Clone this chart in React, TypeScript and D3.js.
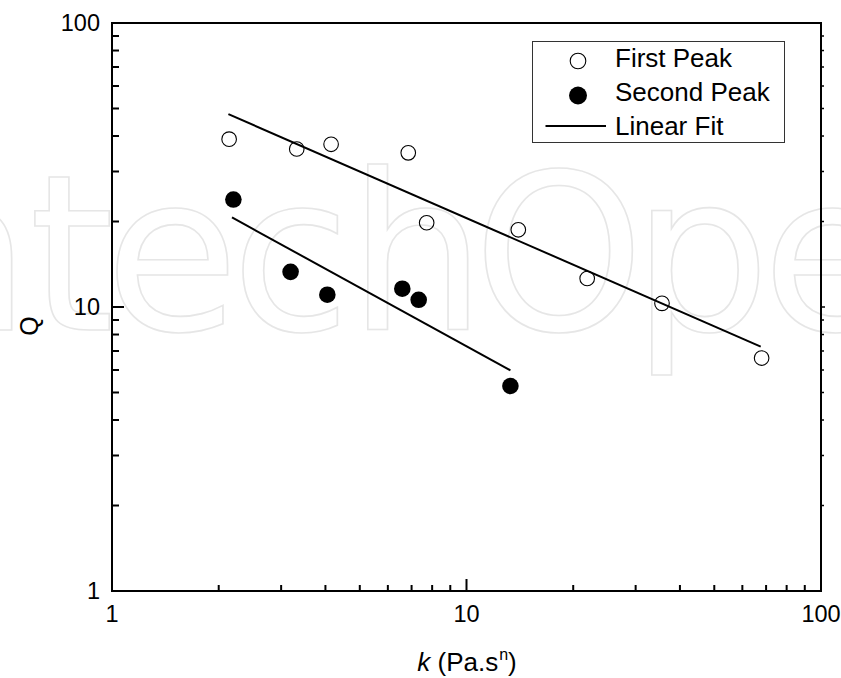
import React from "react";
import * as d3 from "d3";

// k (Pa.s^n) and Q for the two peaks
const firstPeakK = [2.14, 3.32, 4.15, 6.85, 7.72, 14.0, 21.9, 35.6, 68.0];
const firstPeakQ = [39.0, 36.0, 37.4, 34.9, 19.8, 18.7, 12.6, 10.3, 6.61];
const secondPeakK = [2.2, 3.19, 4.05, 6.59, 7.33, 13.3];
const secondPeakQ = [23.9, 13.3, 11.05, 11.6, 10.6, 5.27];

// power-law fits: log10(Q) = a + b * log10(k), drawn over [kMin, kMax]
const fitNames = ["first", "second"];
const fitA = [1.858, 1.547];
const fitB = [-0.545, -0.685];
const fitKMin = [2.13, 2.18];
const fitKMax = [67.6, 13.3];

const xTickLabels = ["1", "10", "100"];
const yTickLabels = ["1", "10", "100"];
const legendLabels = ["First Peak", "Second Peak", "Linear Fit"];

const W = 841;
const H = 678;
const FONT = "'Liberation Sans', Arial, Helvetica, sans-serif";

// glyph origins for the background mark
const markText = "IntechOpen";
const markX = [-175, -108, 29, 105, 231, 348, 473, 632, 762, 895];

export default function App() {
  const x = d3.scaleLog().domain([1, 100]).range([112, 821]);
  const y = d3.scaleLog().domain([1, 100]).range([591, 23]);

  const minorVals: number[] = [];
  for (const dec of [1, 10]) {
    for (let m = 2; m <= 9; m++) minorVals.push(dec * m);
  }
  const majorVals = [10];

  const fitPaths = fitNames.map((_, i) => {
    const pts: [number, number][] = [fitKMin[i], fitKMax[i]].map((k) => [
      x(k),
      y(Math.pow(10, fitA[i] + fitB[i] * Math.log10(k))),
    ]);
    return d3.line()(pts) as string;
  });

  const [x0, x1] = x.range();
  const [y0, y1] = y.range();

  return (
    <svg width={W} height={H} style={{ position: "absolute", left: 0, top: 0, background: "#fff" }}>
      <rect width={W} height={H} fill="#fff" />
      {/* background mark */}
      <text
        x={markX.join(" ")}
        y={330}
        fontFamily="'DejaVu Sans', sans-serif"
        fontSize={218}
        fill="none"
        stroke="#e6e6e6"
        strokeWidth={1.6}
      >
        {markText}
      </text>

      {/* fit lines */}
      {fitPaths.map((d, i) => (
        <path key={fitNames[i]} d={d} fill="none" stroke="#000" strokeWidth={2} />
      ))}

      {/* data points */}
      {firstPeakK.map((k, i) => (
        <circle key={"f" + i} cx={x(k)} cy={y(firstPeakQ[i])} r={7.3} fill="none" stroke="#000" strokeWidth={1.1} />
      ))}
      {secondPeakK.map((k, i) => (
        <circle key={"s" + i} cx={x(k)} cy={y(secondPeakQ[i])} r={8.3} fill="#000" />
      ))}

      {/* frame */}
      <rect x={x0} y={y1} width={x1 - x0} height={y0 - y1} fill="none" stroke="#000" strokeWidth={2} />

      {/* ticks */}
      {minorVals.map((v) => (
        <g key={"m" + v}>
          <line x1={x0} x2={x0 + 7} y1={y(v)} y2={y(v)} stroke="#000" strokeWidth={2} />
          <line x1={x(v)} x2={x(v)} y1={y0} y2={y0 - 6} stroke="#000" strokeWidth={2} />
          <line x1={x1} x2={x1 + 3} y1={y(v)} y2={y(v)} stroke="#000" strokeWidth={1.5} />
        </g>
      ))}
      {majorVals.map((v) => (
        <g key={"M" + v}>
          <line x1={x0} x2={x0 + 12} y1={y(v)} y2={y(v)} stroke="#000" strokeWidth={2} />
          <line x1={x(v)} x2={x(v)} y1={y0} y2={y0 - 12} stroke="#000" strokeWidth={2} />
          <line x1={x1} x2={x1 + 4} y1={y(v)} y2={y(v)} stroke="#000" strokeWidth={1.5} />
        </g>
      ))}

      {/* tick labels */}
      {xTickLabels.map((t) => (
        <text key={"xt" + t} x={x(+t)} y={622} textAnchor="middle" fontFamily={FONT} fontSize={23.5} fill="#000">
          {t}
        </text>
      ))}
      {yTickLabels.map((t) => (
        <text key={"yt" + t} x={100} y={y(+t) + 8} textAnchor="end" fontFamily={FONT} fontSize={23.5} fill="#000">
          {t}
        </text>
      ))}

      {/* axis titles */}
      <text x={467} y={671} textAnchor="middle" fontFamily={FONT} fontSize={26} fill="#000">
        <tspan fontStyle="italic">k</tspan>
        <tspan> (Pa.s</tspan>
        <tspan fontSize={16} dy={-11} dx={1}>n</tspan>
        <tspan dy={11}>)</tspan>
      </text>
      <text
        transform="translate(38,326) rotate(-90)"
        textAnchor="middle"
        fontFamily={FONT}
        fontSize={25}
        fill="#000"
      >
        Q
      </text>

      {/* legend */}
      <rect x={532.5} y={41.5} width={252} height={101} fill="#fff" stroke="#333" strokeWidth={1} />
      <circle cx={578} cy={61} r={7.8} fill="none" stroke="#000" strokeWidth={1.1} />
      <circle cx={578} cy={95.5} r={9} fill="#000" />
      <line x1={545.5} x2={606} y1={126} y2={126} stroke="#000" strokeWidth={1.8} />
      {legendLabels.map((l, i) => (
        <text key={l} x={615} y={67 + i * 34} fontFamily={FONT} fontSize={26} fill="#000">
          {l}
        </text>
      ))}
    </svg>
  );
}
